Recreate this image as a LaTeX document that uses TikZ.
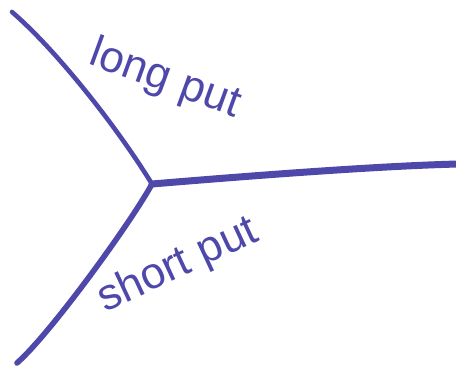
\documentclass[tikz,border=0pt]{standalone}
\usepackage{fontspec}
\setmainfont{Liberation Sans}
\usepackage{xcolor}
\usepackage{tikz}
\usetikzlibrary{calc,positioning}
\definecolor{ink}{HTML}{4E48AA}

\begin{document}
\begin{tikzpicture}[x=1pt, y=1pt, line cap=round, line join=round,
  pen/.style={draw=ink},
  hand/.style={text=ink, inner sep=0pt, font=\fontsize{44}{44}\selectfont}]
  \useasboundingbox (0,0) rectangle (456,374);
  \coordinate (hub) at (152,190);
  \coordinate (ul) at (12,362);
  \coordinate (rt) at (458,210);
  \coordinate (ll) at (17,11);
  % the three branches
  \draw[pen, line width=4.6pt] (ul) .. controls (55,325) and (115,250) .. (hub);
  \draw[pen, line width=7pt] (hub) .. controls (260,199) and (380,208) .. (rt);
  \draw[pen, line width=5.6pt] (hub) .. controls (130,150) and (50,40) .. (ll);
  % labels
  \node[hand, rotate=-20] (long) at (165,294) {long put};
  \node[hand, rotate=25] (short) at (178,108) {short put};
\end{tikzpicture}
\end{document}
